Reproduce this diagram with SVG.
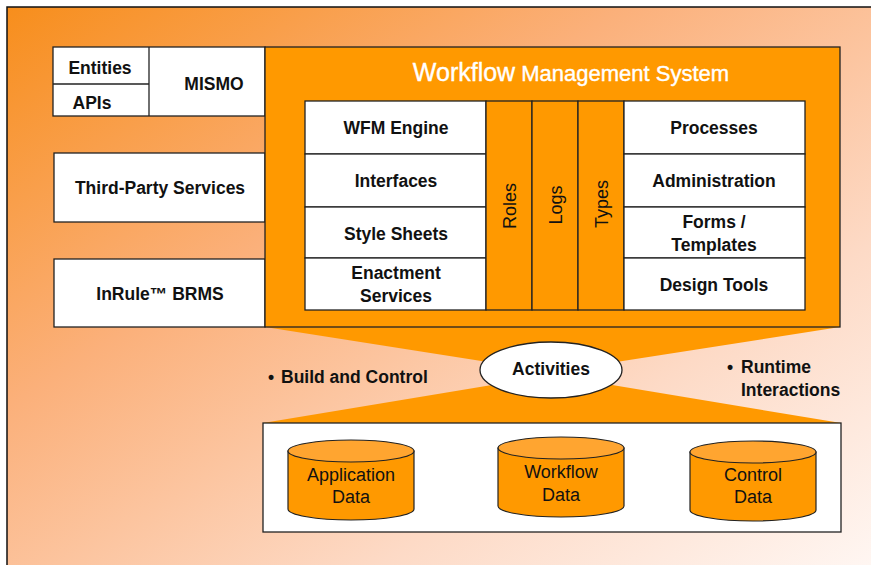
<svg xmlns="http://www.w3.org/2000/svg" width="871" height="565" viewBox="0 0 871 565">
<defs>
<linearGradient id="bg" x1="0" y1="0" x2="1" y2="1">
<stop offset="0" stop-color="#F78E1C"/>
<stop offset="0.35" stop-color="#FBB07A"/>
<stop offset="0.7" stop-color="#FDDAC6"/>
<stop offset="1" stop-color="#FFF8F5"/>
</linearGradient>
<style>
.box{fill:#fff;stroke:#222;stroke-width:1.3}
.org{fill:#FF9900;stroke:#222;stroke-width:1.3}
.t{font-family:"Liberation Sans",Arial,sans-serif;font-weight:bold;font-size:17.5px;fill:#111;text-anchor:middle}
.n{font-family:"Liberation Sans",Arial,sans-serif;font-size:18px;fill:#111;text-anchor:middle}
.w{font-family:"Liberation Sans",Arial,sans-serif;fill:#fff;text-anchor:middle}
.cyl{fill:#FF9900;stroke:#222;stroke-width:1.2}
.cylt{fill:#FFA530;stroke:#222;stroke-width:1.2}
</style>
</defs>
<rect x="7" y="7" width="880" height="570" fill="url(#bg)" stroke="#111" stroke-width="1.5"/>

<g id="connectors">
<polygon points="265,327 840,327 552,372" fill="#FF9900"/>
<polygon points="263,423 841,423 552,375" fill="#FF9900"/>
</g>

<g id="mismo">
<rect class="box" x="53" y="47" width="212" height="69"/>
<line x1="149" y1="47" x2="149" y2="116" stroke="#222" stroke-width="1.3"/>
<line x1="53" y1="84" x2="149" y2="84" stroke="#222" stroke-width="1.3"/>
<text class="t" x="100" y="74">Entities</text>
<text class="t" x="92" y="109">APIs</text>
<text class="t" x="214" y="90">MISMO</text>
</g>
<g id="third-party">
<rect class="box" x="54" y="153" width="211" height="69"/>
<text class="t" x="160" y="194">Third-Party Services</text>
</g>
<g id="inrule">
<rect class="box" x="54" y="259" width="211" height="68"/>
<text class="t" x="160" y="300">InRule™ BRMS</text>
</g>

<g id="wms">
<rect class="org" x="265" y="47" width="575" height="280"/>
<text class="w" x="571" y="81" style="stroke:#fff;stroke-width:0.4"><tspan font-size="25px">Workflow</tspan><tspan font-size="22px"> Management System</tspan></text>
</g>

<g id="left-col">
<rect class="box" x="305" y="101" width="181" height="53"/>
<text class="t" x="396" y="134">WFM Engine</text>
<rect class="box" x="305" y="154" width="181" height="53"/>
<text class="t" x="396" y="187">Interfaces</text>
<rect class="box" x="305" y="207" width="181" height="51"/>
<text class="t" x="396" y="240">Style Sheets</text>
<rect class="box" x="305" y="258" width="181" height="52"/>
<text class="t" x="396" y="279">Enactment</text>
<text class="t" x="396" y="302">Services</text>
</g>

<g id="roles">
<rect class="org" x="486" y="101" width="46" height="209"/>
<text class="n" transform="translate(516,206) rotate(-90)">Roles</text>
</g>
<g id="logs">
<rect class="org" x="532" y="101" width="46" height="209"/>
<text class="n" transform="translate(562,205) rotate(-90)">Logs</text>
</g>
<g id="types">
<rect class="org" x="578" y="101" width="46" height="209"/>
<text class="n" transform="translate(608,204) rotate(-90)">Types</text>
</g>

<g id="right-col">
<rect class="box" x="624" y="101" width="181" height="53"/>
<text class="t" x="714" y="134">Processes</text>
<rect class="box" x="624" y="154" width="181" height="53"/>
<text class="t" x="714" y="187">Administration</text>
<rect class="box" x="624" y="207" width="181" height="51"/>
<text class="t" x="714" y="228">Forms /</text>
<text class="t" x="714" y="251">Templates</text>
<rect class="box" x="624" y="258" width="181" height="52"/>
<text class="t" x="714" y="291">Design Tools</text>
</g>

<g id="activities">
<ellipse cx="551" cy="370" rx="71" ry="28" fill="#fff" stroke="#222" stroke-width="1.3"/>
<text class="t" x="551" y="375" font-size="14px">Activities</text>
</g>

<g id="labels">
<text class="t" x="268" y="383" style="text-anchor:start" font-size="15px">•</text>
<text class="t" x="281" y="383" style="text-anchor:start" font-size="17px">Build and Control</text>
<text class="t" x="727" y="373" style="text-anchor:start" font-size="15px">•</text>
<text class="t" x="741" y="373" style="text-anchor:start" font-size="17px">Runtime</text>
<text class="t" x="741" y="396" style="text-anchor:start" font-size="17px">Interactions</text>
</g>

<g id="data-store">
<rect class="box" x="263" y="423" width="578" height="109"/>
</g>
<g id="app-data">
<path class="cyl" d="M288,451 L288,509 A63,11 0 0 0 414,509 L414,451 Z"/>
<ellipse class="cylt" cx="351" cy="451" rx="63" ry="11"/>
<text class="n" x="351" y="481">Application</text>
<text class="n" x="351" y="503">Data</text>
</g>
<g id="wf-data">
<path class="cyl" d="M498,448 L498,506 A63,11 0 0 0 624,506 L624,448 Z"/>
<ellipse class="cylt" cx="561" cy="448" rx="63" ry="11"/>
<text class="n" x="561" y="478">Workflow</text>
<text class="n" x="561" y="501">Data</text>
</g>
<g id="ctrl-data">
<path class="cyl" d="M690,452 L690,510 A63,11 0 0 0 816,510 L816,452 Z"/>
<ellipse class="cylt" cx="753" cy="452" rx="63" ry="11"/>
<text class="n" x="753" y="481">Control</text>
<text class="n" x="753" y="503">Data</text>
</g>
</svg>
